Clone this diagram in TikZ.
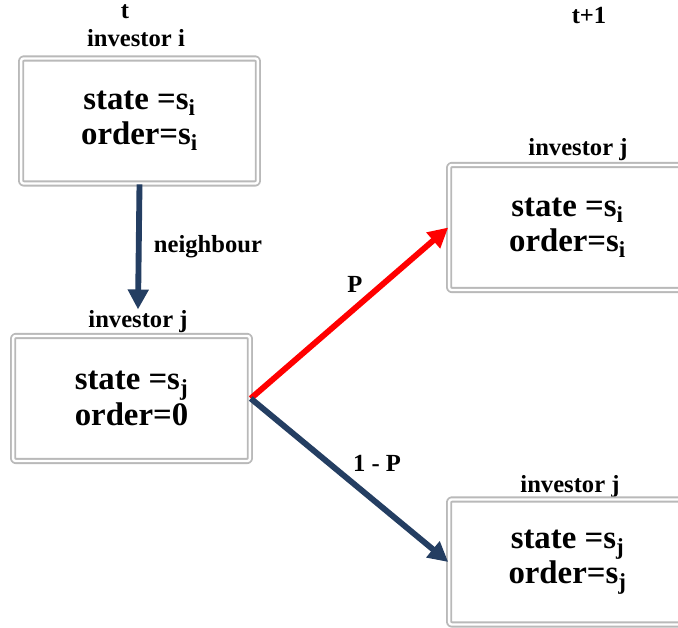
\documentclass[tikz,border=0pt]{standalone}
\usepackage{fontspec}
\setmainfont{Liberation Serif}
\usetikzlibrary{arrows.meta}
\definecolor{navyarrow}{RGB}{36,62,98}
\definecolor{boxgray}{RGB}{185,185,185}
\tikzset{
  statebox/.style={draw=boxgray, line width=1.6pt, double=white, double distance=2pt,
    rounded corners=2pt, minimum width=7.1cm, minimum height=3.75cm, align=center,
    font=\bfseries\fontsize{28}{30}\selectfont},
  tag/.style={font=\bfseries\fontsize{21}{24}\selectfont, inner sep=1pt},
  flow/.style={line width=5pt, -{Triangle[length=17pt,width=17pt]}}
}
\begin{document}
\begin{tikzpicture}[x=0.03cm, y=0.03cm, line join=round]
                  \clip (0,0) rectangle (678,628);
                  \fill[white] (0,0) rectangle (678,628);

                  % time t
                  \node[tag] (t0) at (125,616) {t};
                  \node[tag] (invI) at (136,590) {investor i};
                  \node[statebox] (boxI) at (139.5,507) {state =s\textsubscript{i}\\order=s\textsubscript{i}};

                  \node[tag] (invJ) at (138,306) {investor j};
                  \node[statebox] (boxJ) at (131.5,229.5) {state =s\textsubscript{j}\\order=0};

                  % time t+1
                  \node[tag] (t1) at (589,612) {t+1};
                  \node[tag] (invJup) at (578,478) {investor j};
                  \node[statebox] (boxUp) at (567.5,400.5) {state =s\textsubscript{i}\\order=s\textsubscript{i}};
                  \node[tag] (invJdown) at (570,141) {investor j};
                  \node[statebox] (boxDown) at (567.5,66) {state =s\textsubscript{j}\\order=s\textsubscript{j}};

                  % transitions
                  \draw[flow, navyarrow] (boxI.south) -- (invJ.north);
                  \draw[flow, red] (boxJ.east) -- (boxUp.west);
                  \draw[flow, navyarrow] (boxJ.east) -- (boxDown.west);

                  \node[tag] (nb) at (208,381) {neighbour};
                  \node[tag] (pUp) at (355,344) {P};
                  \node[tag] (pDown) at (377,165) {1 - P};

                \end{tikzpicture}
\end{document}
